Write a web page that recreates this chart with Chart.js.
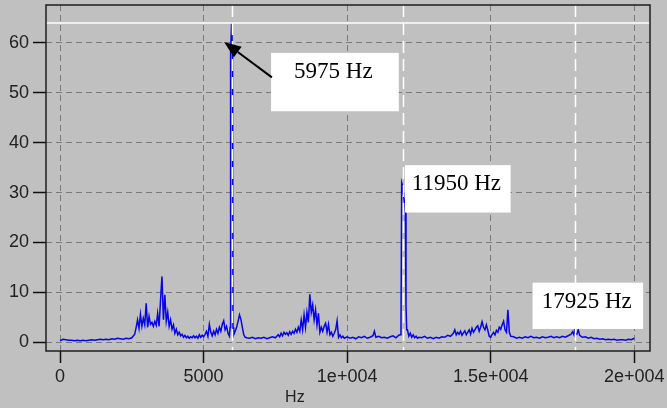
<!DOCTYPE html>
<html>
<head>
<meta charset="utf-8">
<script src="https://cdn.jsdelivr.net/npm/chart.js@4.4.1/dist/chart.umd.min.js"></script>
<style>
  html, body { margin: 0; padding: 0; background: #c0c0c0; }
</style>
</head>
<body>
<canvas id="spectrum" width="667" height="408"></canvas>
<script>
// spectrum: frequency (Hz) and amplitude
const freqHz = [
  0, 100, 200, 300, 400, 500, 600, 700, 800, 900,
  1000, 1100, 1200, 1300, 1400, 1500, 1600, 1700, 1800, 1900,
  2000, 2100, 2200, 2300, 2400, 2500, 2600,
  2650, 2700, 2750, 2800, 2850, 2900, 2950, 3000, 3050, 3100,
  3150, 3200, 3250, 3300, 3350, 3400, 3450, 3500, 3550, 3600,
  3650, 3700, 3750, 3800, 3850, 3900, 3950, 4000, 4050, 4100,
  4150, 4200, 4250, 4300, 4350, 4400, 4450, 4500, 4550, 4600,
  4650, 4700, 4750, 4800, 4850, 4900, 4950, 5000, 5050, 5100,
  5150, 5200, 5250, 5300, 5350, 5400, 5450, 5500, 5550, 5600,
  5650, 5700, 5750, 5800, 5850, 5900,
  5925, 5940, 5975, 6010, 6025,
  6050, 6100, 6150, 6200, 6250, 6300, 6350, 6400, 6450, 6500,
  6600, 6700, 6800, 6900, 7000, 7100, 7200, 7300, 7400, 7500,
  7600, 7650, 7700, 7750, 7800, 7850, 7900, 7950, 8000, 8050,
  8100, 8150, 8200, 8250, 8300, 8350, 8400, 8450, 8500, 8550,
  8600, 8650, 8700, 8750, 8800, 8850, 8900, 8950, 9000, 9050,
  9100, 9150, 9200, 9250, 9300, 9350, 9400, 9450, 9500, 9550,
  9600, 9650, 9700, 9750, 9800, 9850, 9900,
  10000, 10100, 10200, 10300, 10400, 10500, 10600, 10700, 10800, 10900,
  10950, 11000, 11100, 11200, 11300, 11400, 11500, 11600, 11700, 11800,
  11850, 11875, 11900, 11925, 11950, 11975, 12000, 12025, 12050, 12075,
  12100, 12150, 12200, 12250, 12300, 12350, 12400, 12450, 12500, 12600, 12700,
  12800, 12900, 13000, 13100, 13200, 13300, 13400, 13500, 13600, 13700,
  13750, 13800, 13850, 13900, 13950, 14000, 14050, 14100, 14150, 14200,
  14250, 14300, 14350, 14400, 14450, 14500, 14550, 14600, 14650, 14700,
  14750, 14800, 14850, 14900, 14950, 15000, 15050, 15100, 15150, 15200,
  15250, 15300, 15350, 15400, 15450, 15500, 15550, 15600, 15650, 15700,
  15800, 15900, 16000, 16100, 16200, 16300, 16400, 16500, 16600, 16700,
  16800, 16900, 17000, 17100, 17200, 17300, 17400, 17500, 17600, 17700,
  17800, 17850, 17900, 17925, 17950, 18000, 18050, 18100, 18150, 18200,
  18300, 18400, 18500, 18600, 18700, 18800, 18900, 19000, 19100, 19200,
  19300, 19400, 19500, 19600, 19700, 19800, 19900, 20000
];
const amplitude = [
  0.3, 0.6, 0.5, 0.4, 0.4, 0.3, 0.4, 0.3, 0.4, 0.3,
  0.4, 0.5, 0.4, 0.5, 0.6, 0.5, 0.6, 0.5, 0.7, 0.6,
  0.8, 0.7, 0.6, 0.8, 0.7, 0.9, 1.6,
  3.0, 4.5, 2.8, 5.6, 3.2, 4.8, 3.5, 7.8, 3.0, 5.2,
  3.6, 4.0, 3.2, 4.2, 3.4, 5.8, 3.2, 8.5, 13.2, 4.5,
  9.5, 4.2, 6.0, 3.2, 4.5, 2.6, 3.5, 1.8, 2.6, 1.5,
  2.0, 1.3, 1.6, 1.0, 1.4, 0.9, 1.2, 0.8, 1.1, 0.9,
  1.3, 0.9, 1.2, 0.8, 1.5, 1.0, 1.4, 1.1, 1.6, 2.2,
  1.2, 3.6, 2.0, 1.3, 2.2, 1.5, 2.6, 1.8, 3.0, 2.2,
  3.6, 4.3, 2.5, 3.2, 1.8, 1.2,
  3.0, 58, 64, 57, 3.0,
  1.5, 2.2, 3.0, 4.2, 5.5, 4.6, 3.0, 1.5, 1.0, 0.9,
  0.8, 1.0, 0.7, 0.9, 0.8, 1.0, 0.7, 0.9, 1.1, 0.9,
  1.5, 1.1, 1.8, 1.3, 2.0, 1.6, 1.9, 1.4, 2.1, 1.6,
  2.2, 1.8, 2.6, 2.0, 3.0, 2.2, 4.5, 2.5, 5.5, 3.0,
  6.0, 4.0, 9.6, 6.0, 7.5, 4.5, 6.5, 3.5, 5.8, 2.0,
  3.0, 2.2, 3.2, 3.8, 2.0, 3.6, 1.5, 2.0, 1.2, 1.8,
  2.5, 4.3, 1.0, 1.5, 0.9, 1.2, 0.8,
  1.1, 0.8, 1.0, 0.7, 1.1, 0.9, 1.2, 0.8, 1.0, 1.3,
  2.2, 1.0, 1.2, 0.9, 1.0, 0.8, 1.1, 1.3, 0.9, 1.4,
  1.5, 1.8, 32, 31.5, 30, 29, 28, 26, 7.5, 2.5,
  2.5, 1.2, 1.8, 1.0, 1.5, 0.9, 1.2, 0.8, 1.0, 0.9, 1.2,
  0.8, 1.0, 0.7, 1.0, 0.8, 1.1, 1.0, 1.4, 1.2, 1.8,
  2.5, 1.5, 2.0, 1.6, 2.2, 1.4, 1.9, 2.3, 1.5, 2.0,
  2.5, 1.6, 2.8, 2.0, 2.5, 3.0, 3.3, 2.2, 3.0, 4.1,
  3.0, 2.5, 3.5, 2.4, 1.2, 1.0, 1.6, 2.0, 1.5, 2.4,
  2.0, 3.0, 2.6, 3.5, 4.2, 2.5, 2.0, 6.5, 2.0, 1.2,
  1.1, 0.8, 1.0, 0.8, 1.1, 0.9, 1.2, 0.9, 1.0, 0.8,
  1.1, 0.9, 1.0, 1.2, 0.9, 1.1, 0.9, 1.2, 1.0, 1.3,
  1.6, 2.1, 1.5, 2.8, 1.8, 1.6, 2.5, 1.4, 1.2, 1.0,
  1.1, 0.8, 1.0, 0.7, 0.8, 0.6, 0.7, 0.5, 0.6, 0.5,
  0.6, 0.4, 0.5, 0.5, 0.4, 0.6, 0.5, 0.8
];

const xTicks = [0, 5000, 10000, 15000, 20000];
const xTickLabels = ['0', '5000', '1e+004', '1.5e+004', '2e+004'];
const yTicks = [0, 10, 20, 30, 40, 50, 60];
const yTickLabels = ['0', '10', '20', '30', '40', '50', '60'];

// marked harmonics
const peakHz = [5975, 11950, 17925];
const peakLabels = ['5975 Hz', '11950 Hz', '17925 Hz'];
const cursorLevel = 64;

const tickFont = { family: 'Liberation Sans', size: 18 };

// label boxes in data units: [x0, x1, yTop, yBottom, textX, textBaseline]
const boxes = [
  [7350, 11800, 58.0, 46.3, 8150, 53.0],
  [12015, 15695, 35.5, 26.0, 12250, 30.5],
  [16460, 20310, 11.95, 2.67, 16775, 6.85]
];

const decor = {
  id: 'decor',
  beforeDraw(chart) {
    const c = chart.ctx;
    c.save();
    c.fillStyle = '#c0c0c0';
    c.fillRect(0, 0, chart.width, chart.height);
    c.restore();
  },
  afterDatasetsDraw(chart) {
    const c = chart.ctx;
    const a = chart.chartArea;
    const x = chart.scales.x, y = chart.scales.y;
    c.save();
    // white cursor lines
    c.strokeStyle = '#ffffff';
    c.lineWidth = 1.5;
    c.beginPath();
    const yc = y.getPixelForValue(cursorLevel);
    c.moveTo(a.left, yc);
    c.lineTo(a.right, yc);
    c.stroke();
    c.setLineDash([12, 6]);
    peakHz.forEach(f => {
      const px = Math.round(x.getPixelForValue(f)) + 0.5;
      c.beginPath();
      c.moveTo(px, a.top);
      c.lineTo(px, a.bottom);
      c.stroke();
    });
    c.setLineDash([]);
    // frame
    c.strokeStyle = '#1e1e1e';
    c.lineWidth = 1.5;
    c.strokeRect(a.left, a.top, a.right - a.left, a.bottom - a.top);

    // label boxes
    c.font = '23px "Liberation Serif"';
    c.textBaseline = 'alphabetic';
    c.textAlign = 'left';
    boxes.forEach((b, i) => {
      const x0 = x.getPixelForValue(b[0]), x1 = x.getPixelForValue(b[1]);
      const y0 = y.getPixelForValue(b[2]), y1 = y.getPixelForValue(b[3]);
      c.fillStyle = '#ffffff';
      c.fillRect(x0, y0, x1 - x0, y1 - y0);
      c.fillStyle = '#000000';
      c.fillText(peakLabels[i], x.getPixelForValue(b[4]), y.getPixelForValue(b[5]));
    });

    // arrow to the first peak
    const sx = x.getPixelForValue(7380), sy = y.getPixelForValue(53.1);
    const tx = x.getPixelForValue(5714), ty = y.getPixelForValue(60.2);
    const ang = Math.atan2(ty - sy, tx - sx);
    const len = 17, half = 6.5;
    const bx = tx - len * Math.cos(ang), by = ty - len * Math.sin(ang);
    c.strokeStyle = '#000000';
    c.lineWidth = 2;
    c.beginPath();
    c.moveTo(sx, sy);
    c.lineTo(bx, by);
    c.stroke();
    c.fillStyle = '#000000';
    c.beginPath();
    c.moveTo(tx, ty);
    c.lineTo(bx + half * Math.sin(ang), by - half * Math.cos(ang));
    c.lineTo(bx - half * Math.sin(ang), by + half * Math.cos(ang));
    c.closePath();
    c.fill();

    // axis title
    c.font = '16px "Liberation Sans"';
    c.fillStyle = '#222222';
    c.textAlign = 'center';
    c.textBaseline = 'middle';
    c.fillText('Hz', a.left + (a.right - a.left) * 0.412, 398);
    c.restore();
  }
};

new Chart(document.getElementById('spectrum'), {
  type: 'line',
  data: {
    datasets: [{
      data: freqHz.map((f, i) => ({ x: f, y: amplitude[i] })),
      borderColor: '#0505e6',
      borderWidth: 1.5,
      pointRadius: 0,
      tension: 0,
      fill: false
    }]
  },
  options: {
    responsive: false,
    animation: false,
    layout: { padding: { top: 5, right: 17, left: 0, bottom: 0 } },
    plugins: { legend: { display: false }, tooltip: { enabled: false } },
    scales: {
      x: {
        type: 'linear',
        min: -490,
        max: 20550,
        afterBuildTicks: s => { s.ticks = xTicks.map(v => ({ value: v })); },
        afterFit: s => { s.height = 57; s.paddingLeft = 0; s.paddingRight = 0; },
        ticks: {
          autoSkip: false,
          maxRotation: 0,
          padding: 3,
          color: '#222',
          font: tickFont,
          callback: (v, i) => xTickLabels[i]
        },
        grid: { color: '#7a7a7a', tickColor: '#111', tickLength: 12, tickWidth: 1.5 },
        border: { display: false, dash: [6, 4] }
      },
      y: {
        min: -1.75,
        max: 67.6,
        afterBuildTicks: s => { s.ticks = yTicks.map(v => ({ value: v })); },
        afterFit: s => { s.width = 46; s.paddingTop = 0; s.paddingBottom = 0; },
        ticks: {
          padding: 4,
          color: '#222',
          font: tickFont,
          callback: (v, i) => yTickLabels[i]
        },
        grid: { color: '#7a7a7a', tickColor: '#111', tickLength: 13, tickWidth: 1.5 },
        border: { display: false, dash: [6, 4] }
      }
    }
  },
  plugins: [decor]
});
</script>
</body>
</html>
